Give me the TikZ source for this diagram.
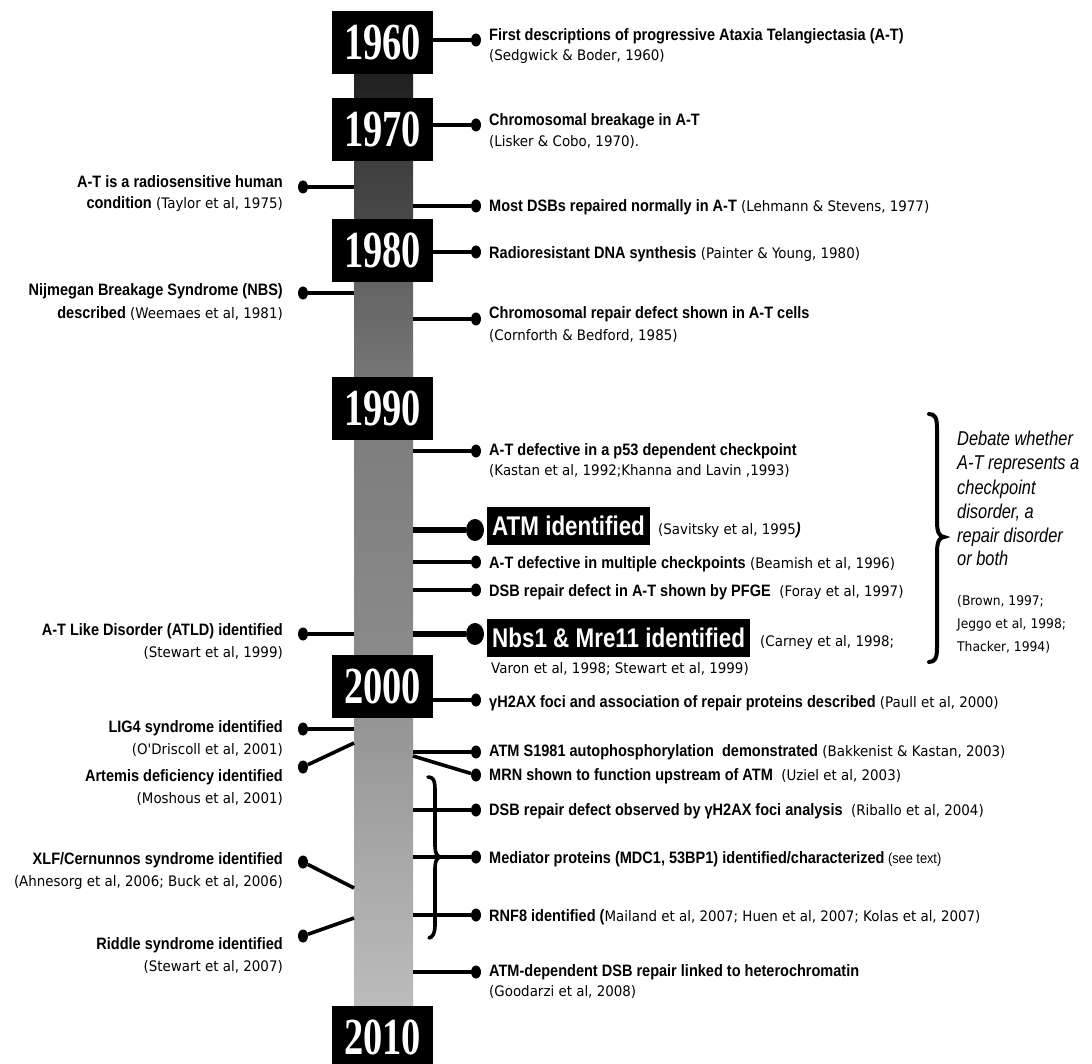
\documentclass[tikz,border=0pt]{standalone}
\usepackage{fontspec}
\usetikzlibrary{shapes.geometric}
\setmainfont{Liberation Sans}
\newfontfamily\nsansfam{Liberation Sans}[FakeStretch=0.88]
\newfontfamily\hsansfam{Liberation Sans}[FakeStretch=0.83]
\newfontfamily\dsansfam{Liberation Sans}[FakeStretch=0.82]
\newfontfamily\csansfam{DejaVu Sans}[FakeStretch=0.925]
\newfontfamily\yseriffam{Liberation Serif}[FakeStretch=0.74]
\newcommand\Bfx{\nsansfam\bfseries\upshape\fontsize{16.5}{20}\selectfont}
\newcommand\Cit{\csansfam\mdseries\upshape\fontsize{14.5}{20}\selectfont}
\newcommand\CitS{\csansfam\mdseries\upshape\fontsize{13.3}{20}\selectfont}
\newcommand\Dbt{\dsansfam\mdseries\itshape\fontsize{20}{24}\selectfont}
\newcommand\SeeT{\nsansfam\mdseries\upshape\fontsize{14.5}{20}\selectfont}
\definecolor{bc1}{HTML}{202020}
\definecolor{bc2}{HTML}{262626}
\definecolor{bc3}{HTML}{404040}
\definecolor{bc4}{HTML}{484848}
\definecolor{bc5}{HTML}{646464}
\definecolor{bc6}{HTML}{767676}
\definecolor{bc7}{HTML}{7E7E7E}
\definecolor{bc8}{HTML}{8A8A8A}
\definecolor{bc9}{HTML}{959595}
\definecolor{bc10}{HTML}{BCBCBC}
\pgfdeclareverticalshading{barshade}{100bp}{color(0bp)=(bc10); color(25bp)=(bc10); color(40.34bp)=(bc9); color(43.83bp)=(bc8); color(55.36bp)=(bc7); color(58.75bp)=(bc6); color(63.68bp)=(bc5); color(67.17bp)=(bc4); color(70.12bp)=(bc3); color(73.61bp)=(bc2); color(75bp)=(bc1); color(100bp)=(bc1)}
\tikzset{
 yearbox/.style={fill=black, text=white, minimum width=101pt, minimum height=63pt, inner sep=0pt, font=\yseriffam\bfseries\fontsize{52}{52}\selectfont},
 dotn/.style={ellipse, fill=black, inner sep=0pt, minimum width=10pt, minimum height=13pt},
 bigdot/.style={ellipse, fill=black, inner sep=0pt, minimum width=18pt, minimum height=22pt},
 conn/.style={line width=3.6pt},
 thickconn/.style={line width=6pt},
 rtxt/.style={anchor=base west, inner sep=0pt},
 ltxt/.style={anchor=base east, inner sep=0pt},
 hbox/.style={fill=black, text=white, inner xsep=5pt, inner ysep=0pt, minimum height=38pt, anchor=west, font=\hsansfam\bfseries\fontsize{27}{27}\selectfont},
 bracel/.style={line width=3.6pt, line cap=round}
}
\begin{document}
\begin{tikzpicture}[x=1pt, y=-1pt]
\useasboundingbox (0,0) rectangle (1092,1064);
\fill[white] (0,0) rectangle (1092,1064);
% bar
\shade[shading=barshade] (354,74) rectangle (413,1006);
\coordinate (bR) at (413,0);
\coordinate (bL) at (354,0);
% year boxes
\node[yearbox] (y1960) at (382.5,42.5) {1960};
\node[yearbox] (y1970) at (382.5,129.5) {1970};
\node[yearbox] (y1980) at (382.5,250.5) {1980};
\node[yearbox] (y1990) at (382.5,408.5) {1990};
\node[yearbox] (y2000) at (382.5,686.5) {2000};
\node[yearbox] (y2010) at (382.5,1037.5) {2010};
% right dots
\node[dotn] (d1) at (476,40) {};
\node[dotn] (d2) at (476,125) {};
\node[dotn] (d3) at (476,206) {};
\node[dotn] (d4) at (476,252) {};
\node[dotn] (d5) at (476,319) {};
\node[dotn] (d6) at (476,451) {};
\node[bigdot] (d7) at (475,530) {};
\node[dotn] (d8) at (476,562) {};
\node[dotn] (d9) at (476,590) {};
\node[bigdot] (d10) at (475,634) {};
\node[dotn] (d11) at (476,700) {};
\node[dotn] (d12) at (476,752) {};
\node[dotn] (d13) at (476,775) {};
\node[dotn] (d14) at (476,810) {};
\node[dotn] (d15) at (476,857) {};
\node[dotn] (d16) at (476,915) {};
\node[dotn] (d17) at (476,972) {};
% left dots
\node[dotn] (e1) at (303,187) {};
\node[dotn] (e2) at (303,293) {};
\node[dotn] (e3) at (303,634) {};
\node[dotn] (e4) at (303,729) {};
\node[dotn] (e5) at (303,767) {};
\node[dotn] (e6) at (303,862) {};
\node[dotn] (e7) at (303,936) {};
\coordinate (m13) at (413,756);
\coordinate (m5) at (354,743);
\coordinate (m6) at (354,888);
\coordinate (m7) at (354,918);
% small brace
\draw[bracel] (428,777) .. controls (433,777) and (435,780) .. (435,790) -- (435,846) .. controls (435,853) and (437,857) .. (441,857) .. controls (437,857) and (435,861) .. (435,868) -- (435,925) .. controls (435,933) and (433,937) .. (429,938);
% right connectors
\draw[conn] (y1960.east |- d1) -- (d1);
\draw[conn] (y1970.east |- d2) -- (d2);
\draw[conn] (bR |- d3) -- (d3);
\draw[conn] (y1980.east |- d4) -- (d4);
\draw[conn] (bR |- d5) -- (d5);
\draw[conn] (bR |- d6) -- (d6);
\draw[thickconn] (bR |- d7) -- (d7);
\draw[conn] (bR |- d8) -- (d8);
\draw[conn] (bR |- d9) -- (d9);
\draw[thickconn] (bR |- d10) -- (d10);
\draw[conn] (y2000.east |- d11) -- (d11);
\draw[conn] (bR |- d12) -- (d12);
\draw[conn] (m13) -- (d13);
\draw[conn] (bR |- d14) -- (d14);
\draw[conn] (bR |- d15) -- (d15);
\draw[conn] (bR |- d16) -- (d16);
\draw[conn] (bR |- d17) -- (d17);
% left connectors
\draw[conn] (bL |- e1) -- (e1);
\draw[conn] (bL |- e2) -- (e2);
\draw[conn] (bL |- e3) -- (e3);
\draw[conn] (bL |- e4) -- (e4);
\draw[conn] (m5) -- (e5);
\draw[conn] (m6) -- (e6);
\draw[conn] (m7) -- (e7);
% big brace
\draw[bracel, line width=4pt] (929,414) .. controls (935,414) and (937,418) .. (937,428) -- (937,522) .. controls (937,531) and (939,537) .. (944,537) .. controls (939,537) and (937,543) .. (937,552) -- (937,648) .. controls (937,658) and (935,662) .. (929,662);
% right texts
\node[rtxt] (t1a) at (489,41) {\Bfx First descriptions of progressive Ataxia Telangiectasia (A-T)};
\node[rtxt] (t1b) at (489,61) {\Cit (Sedgwick \& Boder, 1960)};
\node[rtxt] (t2a) at (489,126) {\Bfx Chromosomal breakage in A-T};
\node[rtxt] (t2b) at (489,147) {\Cit (Lisker \& Cobo, 1970).};
\node[rtxt] (t3) at (489,212) {\Bfx Most DSBs repaired normally in A-T{\Cit\ (Lehmann \& Stevens, 1977)}};
\node[rtxt] (t4) at (489,259) {\Bfx Radioresistant DNA synthesis{\Cit\ (Painter \& Young, 1980)}};
\node[rtxt] (t5a) at (489,319) {\Bfx Chromosomal repair defect shown in A-T cells};
\node[rtxt] (t5b) at (489,341) {\Cit (Cornforth \& Bedford, 1985)};
\node[rtxt] (t6a) at (489,455) {\Bfx A-T defective in a p53 dependent checkpoint};
\node[rtxt] (t6b) at (489,475) {\Cit (Kastan et al, 1992;Khanna and Lavin ,1993)};
\node[hbox] (t7) at (487,526) {ATM identified};
\node[rtxt] (t7c) at (658,534) {\Cit (Savitsky et al, 1995{\Bfx\itshape )}};
\node[rtxt] (t8) at (489,568) {\Bfx A-T defective in multiple checkpoints{\Cit\ (Beamish et al, 1996)}};
\node[rtxt] (t9) at (489,596) {\Bfx DSB repair defect in A-T shown by PFGE{\Cit\ \ (Foray et al, 1997)}};
\node[hbox] (t10) at (487,638) {Nbs1 \& Mre11 identified};
\node[rtxt] (t10c) at (760,646) {\Cit (Carney et al, 1998;};
\node[rtxt] (t10d) at (491,673) {\Cit Varon et al, 1998; Stewart et al, 1999)};
\node[rtxt] (t11) at (489,707) {\Bfx γH2AX foci and association of repair proteins described{\Cit\ (Paull et al, 2000)}};
\node[rtxt] (t12) at (489,756) {\Bfx ATM S1981 autophosphorylation\ \ demonstrated{\Cit\ (Bakkenist \& Kastan, 2003)}};
\node[rtxt] (t13) at (489,780) {\Bfx MRN shown to function upstream of ATM{\Cit\ \ (Uziel et al, 2003)}};
\node[rtxt] (t14) at (489,815) {\Bfx DSB repair defect observed by γH2AX foci analysis{\Cit\ \ (Riballo et al, 2004)}};
\node[rtxt] (t15) at (489,863) {\Bfx Mediator proteins (MDC1, 53BP1) identified/characterized{\SeeT\ (see text)}};
\node[rtxt] (t16) at (489,921) {\Bfx RNF8 identified ({\Cit Mailand et al, 2007; Huen et al, 2007; Kolas et al, 2007)}};
\node[rtxt] (t17a) at (489,976) {\Bfx ATM-dependent DSB repair linked to heterochromatin};
\node[rtxt] (t17b) at (489,996) {\Cit (Goodarzi et al, 2008)};
% left texts
\node[ltxt] (s1a) at (283,188) {\Bfx A-T is a radiosensitive human};
\node[ltxt] (s1b) at (283,209) {\Bfx condition{\Cit\ (Taylor et al, 1975)}};
\node[ltxt] (s2a) at (283,296) {\Bfx Nijmegan Breakage Syndrome (NBS)};
\node[ltxt] (s2b) at (283,319) {\Bfx described{\Cit\ (Weemaes et al, 1981)}};
\node[ltxt] (s3a) at (283,635) {\Bfx A-T Like Disorder (ATLD) identified};
\node[ltxt] (s3b) at (283,657) {\Cit (Stewart et al, 1999)};
\node[ltxt] (s4a) at (283,732) {\Bfx LIG4 syndrome identified};
\node[ltxt] (s4b) at (283,754) {\Cit (O'Driscoll et al, 2001)};
\node[ltxt] (s5a) at (283,781) {\Bfx Artemis deficiency identified};
\node[ltxt] (s5b) at (283,803) {\Cit (Moshous et al, 2001)};
\node[ltxt] (s6a) at (283,864) {\Bfx XLF/Cernunnos syndrome identified};
\node[ltxt] (s6b) at (283,886) {\Cit (Ahnesorg et al, 2006; Buck et al, 2006)};
\node[ltxt] (s7a) at (283,949) {\Bfx Riddle syndrome identified};
\node[ltxt] (s7b) at (283,971) {\Cit (Stewart et al, 2007)};
% debate
\node[rtxt] (g1) at (957,445) {\Dbt Debate whether};
\node[rtxt] (g2) at (957,469) {\Dbt A-T represents a};
\node[rtxt] (g3) at (957,494) {\Dbt checkpoint};
\node[rtxt] (g4) at (957,518) {\Dbt disorder, a};
\node[rtxt] (g5) at (957,542) {\Dbt repair disorder};
\node[rtxt] (g6) at (957,565) {\Dbt or both};
\node[rtxt] (g7) at (957,605) {\CitS (Brown, 1997;};
\node[rtxt] (g8) at (957,628) {\CitS Jeggo et al, 1998;};
\node[rtxt] (g9) at (957,651) {\CitS Thacker, 1994)};
\end{tikzpicture}
\end{document}
